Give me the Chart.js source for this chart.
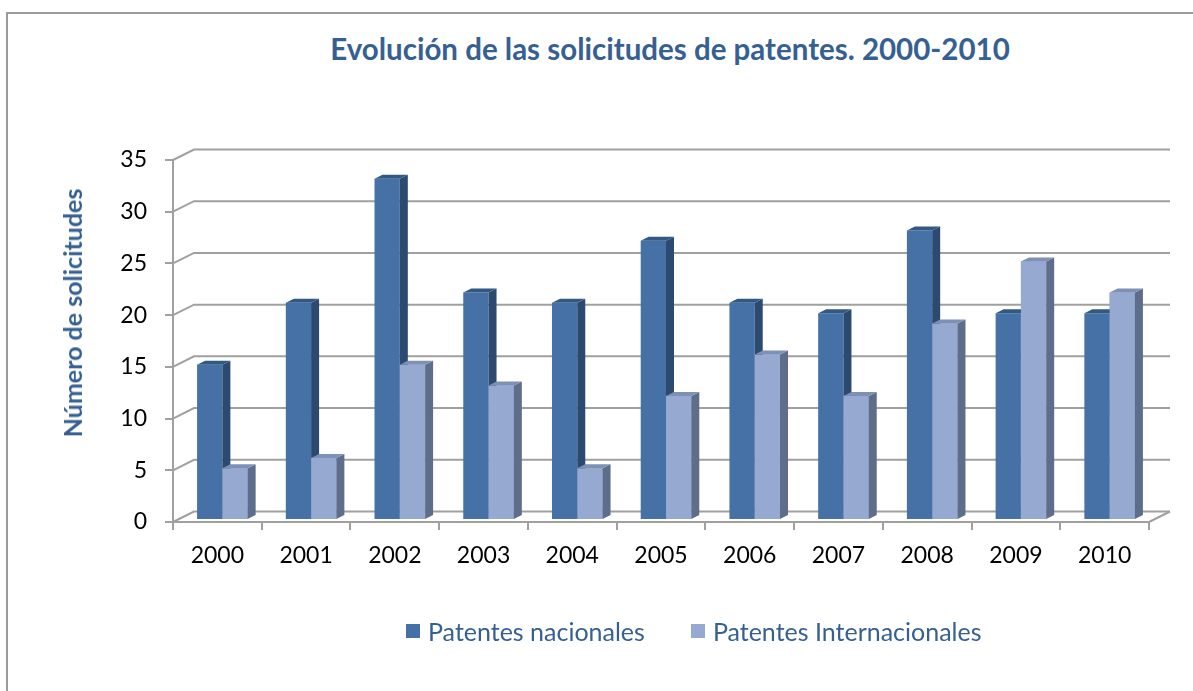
<!DOCTYPE html>
<html lang="es">
<head>
<meta charset="utf-8">
<title>Solicitudes de patentes 2000-2010</title>
<script src="https://cdn.jsdelivr.net/npm/chart.js@4.4.1/dist/chart.umd.min.js"></script>
<style>
  html, body { margin: 0; padding: 0; background: #fff; overflow: hidden; }
  .frame {
    position: absolute; left: 6px; top: 12px; width: 1250px; height: 720px;
    border: 2px solid #9a9a9a; box-sizing: border-box;
  }
  .wrap { position: absolute; left: 0; top: 0; width: 1193px; height: 691px; }
  .chart-title {
    position: absolute; left: 0; top: 31px; width: 1340px; text-align: center;
    font: bold 29.5px Lato, sans-serif; color: #376092; white-space: nowrap;
  }
  .y-title {
    position: absolute; left: 72px; top: 313px; white-space: nowrap;
    transform: translate(-50%, -50%) rotate(-90deg);
    font: bold 25px Lato, sans-serif; color: #376092;
  }
  .legend {
    position: absolute; left: 406px; top: 616px; display: flex; align-items: center;
    font: 25px Lato, sans-serif; color: #376092; white-space: nowrap;
  }
  .legend .sw { display: inline-block; width: 14px; height: 14px; margin-right: 8px; }
  .legend .item { display: flex; align-items: center; margin-right: 46px; }
</style>
</head>
<body>
<div class="frame"></div>
<div class="chart-title">Evolución de las solicitudes de patentes. 2000-2010</div>
<div class="wrap"><canvas id="patentes-chart"></canvas></div>
<div class="y-title">Número de solicitudes</div>
<div class="legend">
  <span class="item"><span class="sw" style="background:#4571a7"></span>Patentes nacionales</span>
  <span class="item"><span class="sw" style="background:#95a9d1"></span>Patentes Internacionales</span>
</div>
<script>
const years = ['2000', '2001', '2002', '2003', '2004', '2005', '2006', '2007', '2008', '2009', '2010'];
const nacionales = [15, 21, 33, 22, 21, 27, 21, 20, 28, 20, 20];
const internacionales = [5, 6, 15, 13, 5, 12, 16, 12, 19, 25, 22];
const yTicks = [0, 5, 10, 15, 20, 25, 30, 35];

const GRID = '#a0a0a0';
const NAT = { front: '#4571a7', side: '#2c4a70', top: '#325884' };
const INT = { front: '#95a9d1', side: '#5e6e8a', top: '#7e90b5' };

// back wall depth and bar depth (fake 3D)
const WALL_DX = 21, WALL_DY = -10.5;
const BAR_DX = 8, BAR_DY = -4;
const BAR_SHIFT_X = 5, BAR_SHIFT_Y = -2;

function face(ctx, pts, color) {
  ctx.beginPath();
  ctx.moveTo(pts[0][0], pts[0][1]);
  for (let i = 1; i < pts.length; i++) ctx.lineTo(pts[i][0], pts[i][1]);
  ctx.closePath();
  ctx.fillStyle = color;
  ctx.fill();
}

function drawBar3d(ctx, bar, colors, withFront) {
  const { x, y, base, width } = bar.getProps(['x', 'y', 'base', 'width'], true);
  const l = x - width / 2, r = x + width / 2;
  if (withFront) {
    ctx.fillStyle = colors.front;
    ctx.fillRect(l, y, width, base - y);
  }
  face(ctx, [[r, y], [r + BAR_DX, y + BAR_DY], [r + BAR_DX, base + BAR_DY], [r, base]], colors.side);
  face(ctx, [[l, y], [l + BAR_DX, y + BAR_DY], [r + BAR_DX, y + BAR_DY], [r, y]], colors.top);
}

const wall3d = {
  id: 'wall3d',
  beforeDatasetsDraw(chart) {
    const { ctx, chartArea: a, scales: { y } } = chart;
    ctx.save();
    ctx.strokeStyle = GRID;
    ctx.lineWidth = 2;
    y.ticks.forEach(t => {
      const py = y.getPixelForValue(t.value);
      ctx.beginPath();
      ctx.moveTo(a.left, py);
      ctx.lineTo(a.left + WALL_DX, py + WALL_DY);
      ctx.lineTo(a.right + WALL_DX, py + WALL_DY);
      ctx.stroke();
    });
    ctx.beginPath();
    ctx.moveTo(a.right, a.bottom);
    ctx.lineTo(a.right + WALL_DX, a.bottom + WALL_DY);
    ctx.stroke();
    ctx.restore();
    // bars sit a little inside the box
    ctx.save();
    ctx.translate(BAR_SHIFT_X, BAR_SHIFT_Y);
  },
  afterDatasetsDraw(chart) {
    const ctx = chart.ctx;
    const nat = chart.getDatasetMeta(0).data;
    const intl = chart.getDatasetMeta(1).data;
    for (let i = 0; i < nat.length; i++) {
      drawBar3d(ctx, nat[i], NAT, false);
      drawBar3d(ctx, intl[i], INT, true);
    }
    ctx.restore();
  }
};

Chart.defaults.font.family = 'Lato, sans-serif';

new Chart(document.getElementById('patentes-chart'), {
  type: 'bar',
  data: {
    labels: years,
    datasets: [
      { label: 'Patentes nacionales', data: nacionales, backgroundColor: NAT.front },
      { label: 'Patentes Internacionales', data: internacionales, backgroundColor: INT.front },
    ],
  },
  options: {
    responsive: true,
    maintainAspectRatio: false,
    animation: false,
    categoryPercentage: 0.57,
    barPercentage: 1.0,
    layout: { padding: { left: 50, right: 44, top: 160, bottom: 0 } },
    plugins: {
      legend: { display: false },
      title: { display: false },
      tooltip: { enabled: false },
    },
    scales: {
      x: {
        afterFit: s => { s.height = 169; },
        grid: { drawOnChartArea: false, drawTicks: true, tickLength: 8, color: GRID, lineWidth: 2 },
        border: { display: true, color: GRID, width: 2 },
        ticks: { color: '#000', font: { size: 23 }, padding: 12 },
      },
      y: {
        min: 0,
        max: 35,
        afterFit: s => { s.width = 123; },
        afterBuildTicks: s => { s.ticks = yTicks.map(v => ({ value: v })); },
        grid: { drawOnChartArea: false, drawTicks: true, tickLength: 8, color: GRID, lineWidth: 2 },
        border: { display: true, color: GRID, width: 2 },
        ticks: { color: '#000', font: { size: 23 }, padding: 18 },
      },
    },
  },
  plugins: [wall3d],
});
</script>
</body>
</html>
